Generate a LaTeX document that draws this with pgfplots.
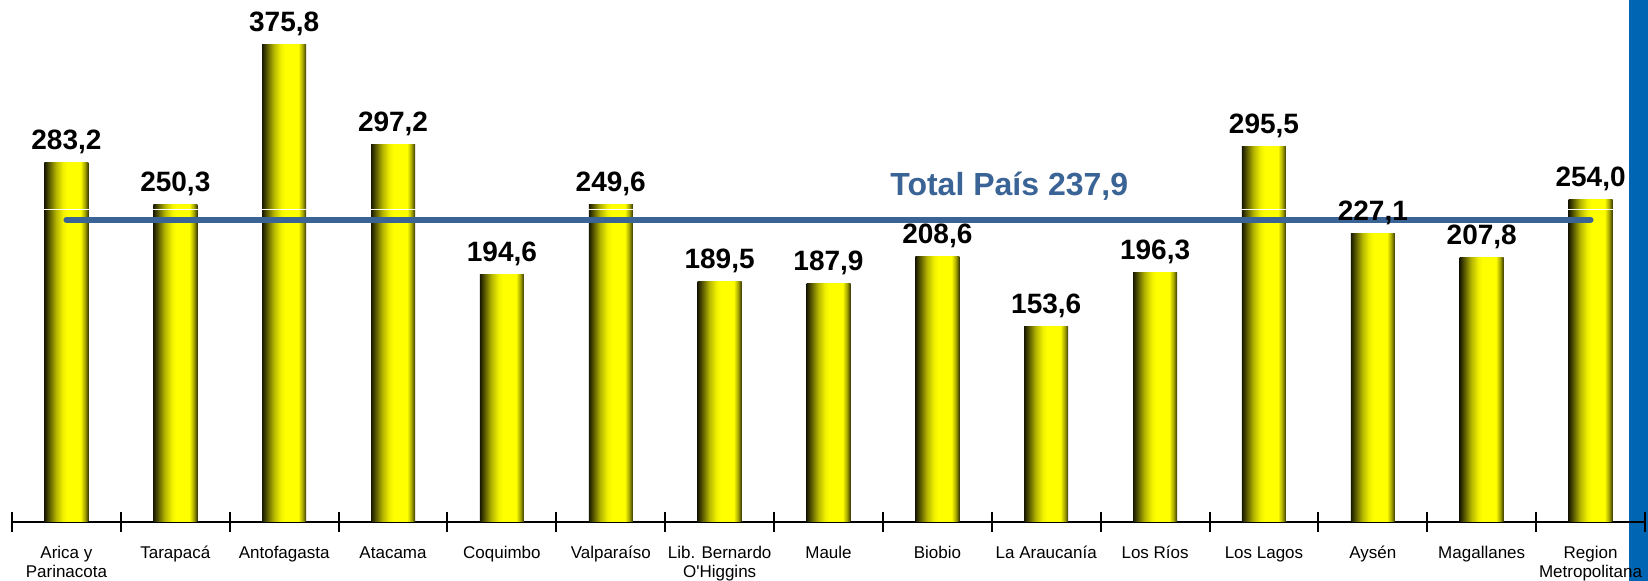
\documentclass[border=0pt]{standalone}
\usepackage{pgfplots}
\pgfplotsset{compat=1.18}
\usepackage{fontspec}
\setmainfont{Liberation Sans}
\definecolor{lineblue}{RGB}{58,99,150}
\definecolor{stripblue}{RGB}{0,102,179}
\definecolor{cA}{RGB}{25,25,0}
\definecolor{cB}{RGB}{85,85,0}
\definecolor{cC}{RGB}{180,180,0}
\definecolor{cD}{RGB}{240,240,0}
\definecolor{cE}{RGB}{255,255,0}
\definecolor{cF}{RGB}{165,165,0}
\definecolor{cG}{RGB}{55,55,0}
\pgfdeclarehorizontalshading{cyl}{100bp}{color(0bp)=(cA); color(25bp)=(cA); color(30bp)=(cB); color(38bp)=(cC); color(46bp)=(cD); color(51bp)=(cE); color(66bp)=(cE); color(71bp)=(cF); color(75bp)=(cG); color(100bp)=(cG)}
\pgfplotsset{
  cylbar/.style={ybar, bar width=22pt, bar shift=0pt, draw=none, shading=cyl,
    nodes near coords, point meta=y,
    every node near coord/.append style={anchor=base, yshift=6.5pt, black,
      font=\fontsize{14}{16}\selectfont\bfseries},
    nodes near coords style={/pgf/number format/.cd, fixed, fixed zerofill, precision=1, use comma, assume math mode=true}}
}
\begin{document}
\begin{tikzpicture}
\useasboundingbox (0,0) rectangle (824pt,290.5pt);
\fill[stripblue] (814.5pt,0) rectangle (824pt,290.5pt);
\begin{axis}[
  at={(6pt,29.65pt)}, anchor=south west,
  scale only axis, width=816.5pt, height=260.85pt,
  xmin=0.5, xmax=15.5, ymin=0, ymax=411.1,
  axis x line*=bottom, axis y line=none,
  x axis line style={-, line width=1pt, black},
  xtick={1,...,15},
  major tick length=0pt,
  minor xtick={0.5,1.5,...,15.5},
  minor tick length=10pt,
  tick align=center,
  every tick/.style={black, line width=1pt},
  xticklabels={{Arica y\\Parinacota},Tarapacá,Antofagasta,Atacama,Coquimbo,Valparaíso,{Lib. Bernardo\\O\textquotesingle Higgins},Maule,Biobio,La Araucanía,Los Ríos,Los Lagos,Aysén,Magallanes,{Region\\Metropolitana}},
  xticklabel style={align=center, font=\fontsize{8.5}{9.3}\selectfont, yshift=-8.8pt},
  clip=false,
]
\addplot[cylbar] coordinates {(1,283.2)};
\addplot[cylbar] coordinates {(2,250.3)};
\addplot[cylbar] coordinates {(3,375.8)};
\addplot[cylbar] coordinates {(4,297.2)};
\addplot[cylbar] coordinates {(5,194.6)};
\addplot[cylbar] coordinates {(6,249.6)};
\addplot[cylbar] coordinates {(7,189.5)};
\addplot[cylbar] coordinates {(8,187.9)};
\addplot[cylbar] coordinates {(9,208.6)};
\addplot[cylbar] coordinates {(10,153.6)};
\addplot[cylbar] coordinates {(11,196.3)};
\addplot[cylbar] coordinates {(12,295.5)};
\addplot[cylbar] coordinates {(13,227.1)};
\addplot[cylbar] coordinates {(14,207.8)};
\addplot[cylbar] coordinates {(15,254.0)};
% thin white gridline visible across bars
\addplot[white, line width=0.5pt, forget plot] coordinates {(0.6,246.2) (15.3,246.2)};
% national total
\addplot[lineblue, line width=3pt, line cap=round] coordinates {(1,237.9) (15,237.9)};
\node[anchor=base, text=lineblue, font=\fontsize{16}{18}\selectfont\bfseries] at (axis cs:9.66,256.7) {Total País 237,9};
\end{axis}
\end{tikzpicture}
\end{document}
